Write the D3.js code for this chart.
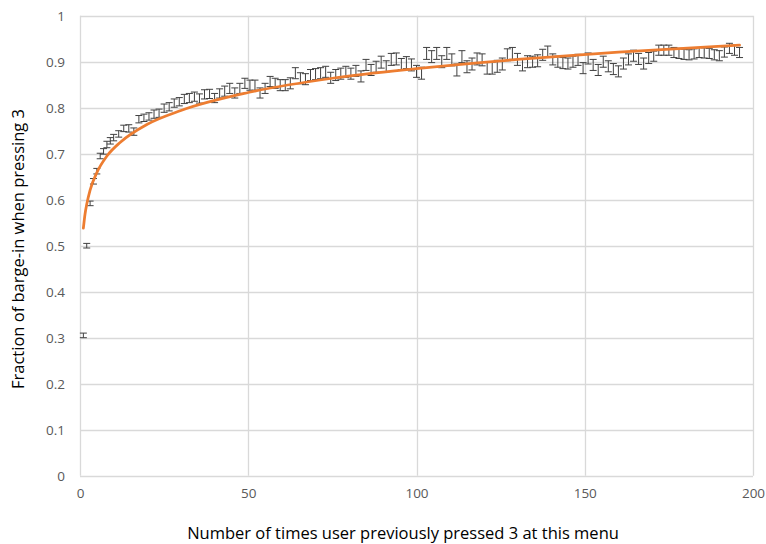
<!DOCTYPE html>
<html lang="en">
<head>
<meta charset="utf-8">
<title>Barge-in fraction</title>
<script src="https://d3js.org/d3.v7.min.js"></script>
<style>
body { margin:0; background:#fff; }
</style>
</head>
<body>
<svg id="svgLayer" width="766" height="544"></svg>
<script>
// times the user already pressed 3 (x position of each error bar)
var pressCount = [
 1,2,3,4,5,6,7,8,9,10,
 11.5,13,14.5,16,17.5,19,20.5,22,23.5,25,
 26.5,28,29.5,31,32.5,34,35.5,37,38.5,40,
 41.5,43,44.5,46,47.5,49,50.5,52,53.5,55,
 56.5,58,59.5,61,62.5,64,65.5,67,68.5,70,
 71.5,73,74.5,76,77.5,79,80.5,82,83.5,85,
 86.5,88,89.5,91,92.5,94,95.5,97,98.5,100,
 101.5,103,104.5,106,107.5,109,110.5,112,113.5,115,
 116.5,118,119.5,121,122.5,124,125.5,127,128.5,130,
 131.5,133,134.5,136,137.5,139,140.5,142,143.5,145,
 146.5,148,149.5,151,152.5,154,155.5,157,158.5,160,
 161.5,163,164.5,166,167.5,169,170.5,172,173.5,175,
 176.5,178,179.5,181,182.5,184,185.5,187,188.5,190,
 191.5,193,194.5,196
];
// fraction of barge-in at each count
var fraction = [
 0.305,0.500,0.592,0.640,0.662,0.695,0.705,0.720,0.728,0.735,
 0.743,0.755,0.755,0.748,0.775,0.778,0.781,0.786,0.788,0.799,
 0.802,0.810,0.813,0.819,0.821,0.824,0.820,0.829,0.830,0.821,
 0.831,0.836,0.842,0.832,0.842,0.853,0.849,0.849,0.832,0.842,
 0.857,0.853,0.849,0.849,0.853,0.875,0.864,0.862,0.871,0.873,
 0.875,0.878,0.865,0.871,0.874,0.878,0.874,0.880,0.868,0.893,
 0.882,0.889,0.899,0.890,0.905,0.906,0.895,0.898,0.893,0.879,
 0.875,0.918,0.911,0.918,0.900,0.918,0.904,0.882,0.911,0.889,
 0.895,0.906,0.904,0.886,0.886,0.890,0.895,0.915,0.918,0.905,
 0.893,0.900,0.900,0.902,0.915,0.922,0.905,0.900,0.897,0.896,
 0.900,0.904,0.886,0.907,0.893,0.882,0.900,0.890,0.884,0.879,
 0.896,0.905,0.913,0.906,0.896,0.908,0.912,0.925,0.925,0.925,
 0.920,0.918,0.916,0.915,0.917,0.920,0.919,0.918,0.915,0.913,
 0.921,0.929,0.925,0.920
];
// half length of each error bar
var errHalf = [
 0.005,0.005,0.005,0.006,0.006,0.006,0.006,0.007,0.007,0.007,
 0.007,0.007,0.008,0.008,0.008,0.008,0.008,0.009,0.009,0.009,
 0.009,0.009,0.009,0.010,0.010,0.010,0.010,0.010,0.010,0.010,
 0.010,0.011,0.011,0.011,0.011,0.011,0.011,0.011,0.011,0.011,
 0.011,0.011,0.012,0.012,0.012,0.012,0.012,0.012,0.012,0.012,
 0.012,0.012,0.012,0.012,0.012,0.012,0.012,0.012,0.012,0.012,
 0.012,0.012,0.013,0.012,0.013,0.013,0.012,0.013,0.013,0.013,
 0.013,0.013,0.013,0.013,0.013,0.013,0.013,0.013,0.013,0.013,
 0.013,0.013,0.013,0.013,0.013,0.013,0.013,0.013,0.013,0.013,
 0.013,0.013,0.012,0.013,0.012,0.012,0.012,0.012,0.012,0.012,
 0.012,0.012,0.012,0.012,0.012,0.012,0.012,0.012,0.012,0.012,
 0.012,0.012,0.012,0.012,0.012,0.012,0.011,0.011,0.011,0.011,
 0.011,0.011,0.011,0.011,0.011,0.011,0.011,0.011,0.011,0.011,
 0.011,0.011,0.011,0.011
];
// logarithmic trend line
var trendX = [1, 1.5, 2, 3, 5, 8, 12, 20, 30, 50, 75, 100, 130, 160, 196];
var trendY = [0.538, 0.569, 0.590, 0.621, 0.659, 0.695, 0.725, 0.764, 0.794, 0.833, 0.864, 0.885, 0.905, 0.921, 0.936];

var xTicks = [0, 50, 100, 150, 200];
var yTicks = [0, 0.1, 0.2, 0.3, 0.4, 0.5, 0.6, 0.7, 0.8, 0.9, 1];
var xTitle = "Number of times user previously pressed 3 at this menu";
var yTitle = "Fraction of barge-in when pressing 3";

function init()
{
	var svg = d3.select("#svgLayer");
	var left = 80, right = 753, top = 15.7, bottom = 475.7;
	var x = d3.scaleLinear().domain([0, 200]).range([left, right]);
	var y = d3.scaleLinear().domain([0, 1]).range([bottom, top]);
	var font = "'Open Sans', sans-serif";

	svg.append("rect").attr("width", 766).attr("height", 544).attr("fill", "#fff");

	// gridlines
	var grid = svg.append("g");
	grid.selectAll("line.h").data(yTicks).enter().append("line")
		.attr("x1", left).attr("x2", right)
		.attr("y1", function(d){ return Math.round(y(d)) + 0.5; })
		.attr("y2", function(d){ return Math.round(y(d)) + 0.5; })
		.attr("stroke", "#d9d9d9").attr("stroke-width", 1.3);
	grid.selectAll("line.v").data(xTicks).enter().append("line")
		.attr("y1", top).attr("y2", bottom)
		.attr("x1", function(d){ return Math.round(x(d)) + 0.5; })
		.attr("x2", function(d){ return Math.round(x(d)) + 0.5; })
		.attr("stroke", "#d9d9d9").attr("stroke-width", 1.3);

	// axes (labels only, lines are the gridlines)
	var xAxis = svg.append("g").attr("transform", "translate(0," + (bottom + 10) + ")")
		.call(d3.axisBottom(x).tickValues(xTicks).tickSize(0).tickFormat(d3.format("d")));
	var yAxis = svg.append("g").attr("transform", "translate(" + (left - 12) + ",0)")
		.call(d3.axisLeft(y).tickValues(yTicks).tickSize(0).tickFormat(function(d){ return String(+d.toFixed(1)); }));
	[xAxis, yAxis].forEach(function(a){
		a.select(".domain").remove();
		a.selectAll("text").attr("fill", "#595959")
			.style("font-family", font).style("font-size", "13.5px");
	});

	// error bars
	var pts = fraction.map(function(v, i){ return {x: pressCount[i], y: v, e: errHalf[i]}; });
	var bars = svg.append("g").attr("stroke", "#404040").attr("stroke-width", 1).attr("fill", "none");
	bars.selectAll("path").data(pts).enter().append("path")
		.attr("d", function(d){
			var cx = x(d.x), y0 = y(d.y - d.e), y1 = y(d.y + d.e), w = 3.5;
			return "M" + cx + "," + y0 + "V" + y1 +
				"M" + (cx - w) + "," + y1 + "H" + (cx + w) +
				"M" + (cx - w) + "," + y0 + "H" + (cx + w);
		});

	// trend line
	var line = d3.line().curve(d3.curveMonotoneX)
		.x(function(d){ return x(d[0]); }).y(function(d){ return y(d[1]); });
	svg.append("path").datum(d3.zip(trendX, trendY))
		.attr("d", line).attr("fill", "none")
		.attr("stroke", "#ed7d31").attr("stroke-width", 2.75).attr("stroke-linecap", "round");

	// titles
	svg.append("text").attr("x", 403).attr("y", 539)
		.attr("text-anchor", "middle").attr("fill", "#000")
		.style("font-family", font).style("font-size", "16.5px")
		.text(xTitle);
	svg.append("text").attr("transform", "translate(24,249) rotate(-90)")
		.attr("text-anchor", "middle").attr("fill", "#000")
		.style("font-family", font).style("font-size", "16.5px")
		.text(yTitle);
}
init();
</script>
</body>
</html>
